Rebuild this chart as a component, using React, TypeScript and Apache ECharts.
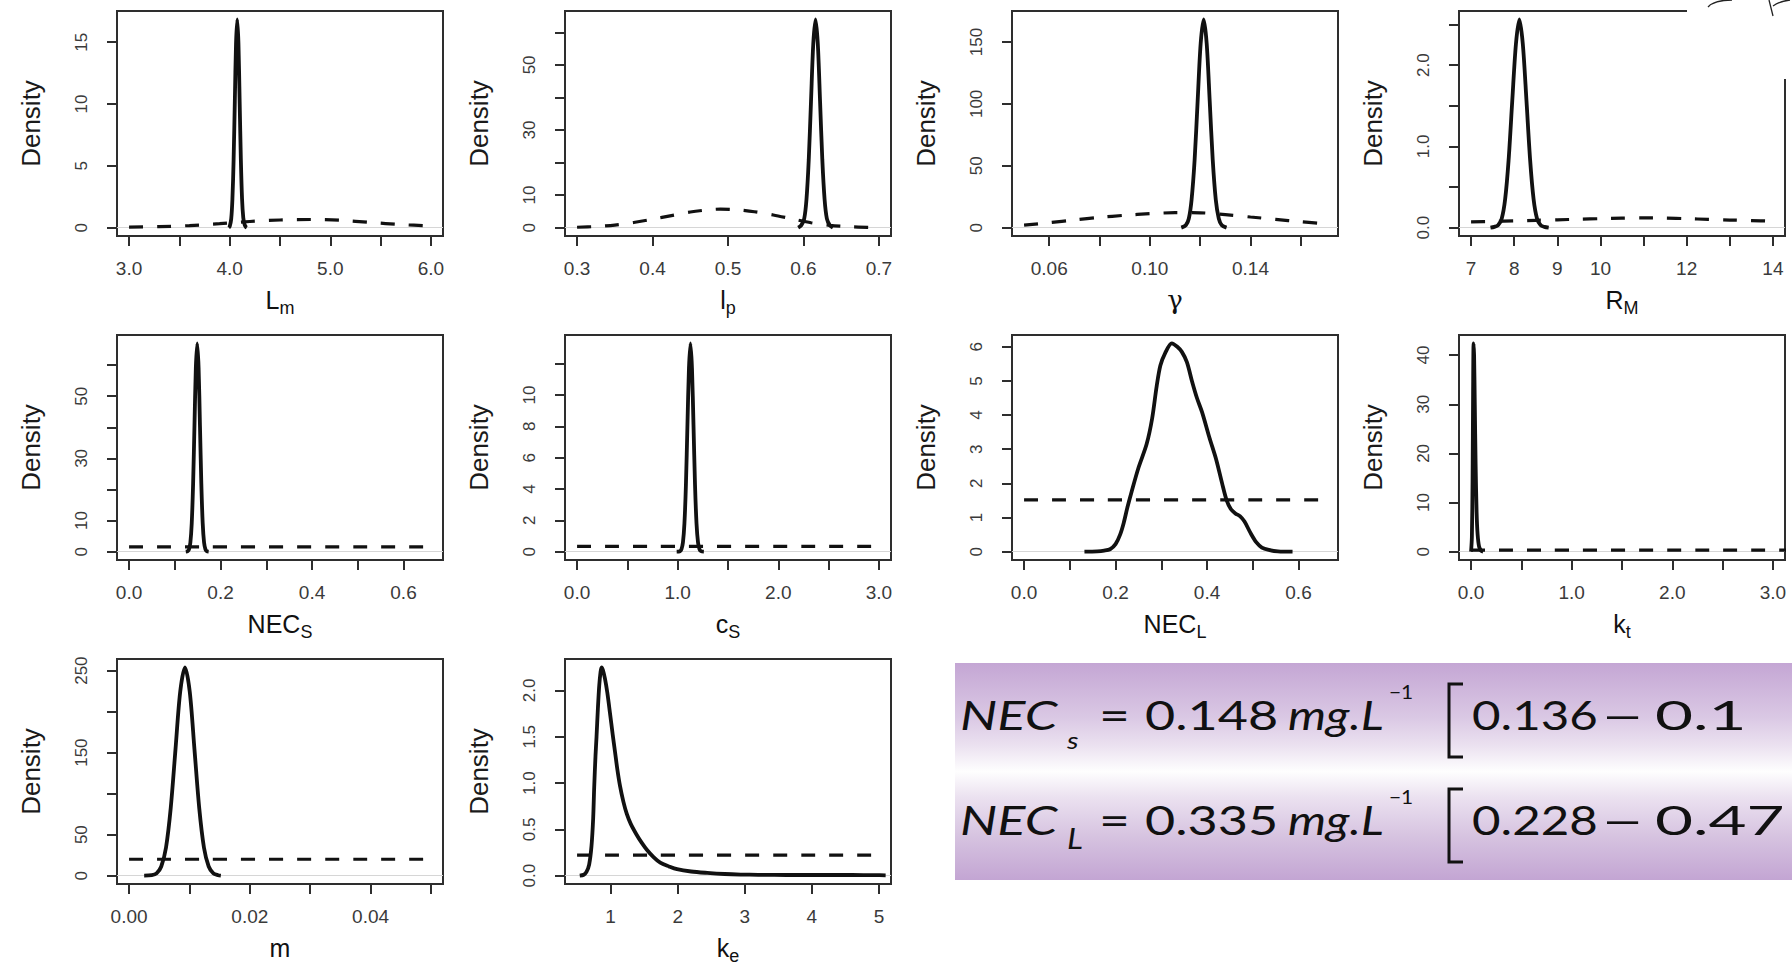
import React, { useEffect, useRef } from "react";
import * as echarts from "echarts";

// ---------------- posterior (solid) and prior (dashed) densities ----------------
const lmPosterior = [[3.99,0],[4.0,0.1],[4.015,0.7],[4.027,2.3],[4.039,5.5],[4.051,10.2],[4.063,14.9],[4.075,16.85],[4.087,14.9],[4.099,10.2],[4.111,5.5],[4.123,2.3],[4.135,0.8],[4.148,0.25],[4.16,0.06],[4.17,0]];
const lmPrior = [[3.0,0.05],[3.3,0.08],[3.6,0.17],[3.9,0.32],[4.2,0.5],[4.5,0.62],[4.8,0.66],[5.1,0.6],[5.4,0.42],[5.7,0.25],[6.0,0.14]];

const lpPosterior = [[0.593,0],[0.597,0.7],[0.601,2.8],[0.604,8.7],[0.607,20.8],[0.610,38.8],[0.613,56.5],[0.616,64.0],[0.619,56.5],[0.622,38.8],[0.625,20.8],[0.628,8.7],[0.631,2.8],[0.635,0.7],[0.639,0]];
const lpPrior = [[0.30,0.13],[0.325,0.35],[0.35,0.8],[0.375,1.6],[0.40,2.6],[0.425,3.7],[0.45,4.8],[0.475,5.5],[0.49,5.7],[0.51,5.55],[0.535,4.9],[0.56,3.9],[0.585,2.7],[0.61,1.5],[0.635,0.7],[0.66,0.3],[0.685,0.1],[0.70,0.06]];

const gammaPosterior = [[0.1125,0],[0.1143,1.9],[0.1155,7.4],[0.1166,22.8],[0.1178,54.7],[0.1190,102.2],[0.1202,148.7],[0.1214,168.3],[0.1226,148.7],[0.1238,102.2],[0.1250,54.7],[0.1262,22.8],[0.1274,7.4],[0.1286,1.9],[0.1305,0]];
const gammaPrior = [[0.05,2.0],[0.06,4.0],[0.07,6.2],[0.08,8.3],[0.09,10.0],[0.10,11.3],[0.11,12.1],[0.12,12.0],[0.13,10.5],[0.14,8.6],[0.15,6.7],[0.16,4.8],[0.17,3.0]];

const rmPosterior = [[7.45,0],[7.54,0.01],[7.625,0.03],[7.71,0.11],[7.79,0.35],[7.87,0.83],[7.955,1.56],[8.04,2.26],[8.12,2.565],[8.2,2.26],[8.285,1.56],[8.37,0.83],[8.45,0.35],[8.53,0.11],[8.615,0.03],[8.7,0.01],[8.8,0]];
const rmPrior = [[7.0,0.072],[7.5,0.077],[8.0,0.083],[8.5,0.09],[9.0,0.097],[9.5,0.104],[10.0,0.111],[10.5,0.117],[11.0,0.12],[11.5,0.118],[12.0,0.111],[12.5,0.102],[13.0,0.094],[13.5,0.087],[14.0,0.08]];

const necsPosterior = [[0.124,0],[0.128,0.15],[0.131,0.74],[0.134,2.9],[0.137,9.1],[0.140,21.8],[0.143,40.6],[0.146,59.1],[0.149,67.0],[0.152,59.1],[0.155,40.6],[0.158,21.8],[0.161,9.1],[0.164,2.9],[0.167,0.74],[0.170,0.15],[0.174,0]];
const necsPrior = [[0,1.515],[0.66,1.515]];

const csPosterior = [[0.99,0],[1.022,0.03],[1.037,0.15],[1.052,0.58],[1.067,1.8],[1.082,4.3],[1.097,8.1],[1.112,11.7],[1.127,13.3],[1.142,11.7],[1.157,8.1],[1.172,4.3],[1.187,1.8],[1.202,0.58],[1.217,0.15],[1.232,0.03],[1.26,0]];
const csPrior = [[0,0.333],[3,0.333]];

const neclPosterior = [[0.132,0],[0.16,0.01],[0.175,0.03],[0.188,0.07],[0.200,0.22],[0.210,0.5],[0.218,0.85],[0.226,1.3],[0.235,1.75],[0.250,2.45],[0.268,3.15],[0.280,3.9],[0.290,4.85],[0.298,5.45],[0.308,5.8],[0.323,6.1],[0.335,6.0],[0.345,5.85],[0.356,5.55],[0.367,5.0],[0.378,4.5],[0.390,4.05],[0.405,3.35],[0.420,2.7],[0.433,2.0],[0.443,1.5],[0.452,1.25],[0.462,1.12],[0.472,1.04],[0.482,0.88],[0.495,0.55],[0.508,0.27],[0.520,0.12],[0.535,0.05],[0.555,0.01],[0.587,0]];
const neclPrior = [[0,1.515],[0.66,1.515]];

const ktPosterior = [[0.0,0],[0.008,3],[0.015,15],[0.02,32],[0.025,42.4],[0.03,40],[0.037,30],[0.045,18],[0.055,8],[0.065,3.5],[0.08,1.0],[0.1,0.2],[0.12,0]];
const ktPrior = [[0,0.333],[3.13,0.333]];

const mPosterior = [[0.0025,0],[0.00376,0.56],[0.00455,2.8],[0.00533,11.2],[0.00612,34.4],[0.0069,82.5],[0.00769,154.1],[0.00847,224.2],[0.00926,254],[0.01005,224.2],[0.01083,154.1],[0.01162,82.5],[0.0124,34.4],[0.01319,11.2],[0.01397,2.8],[0.01476,0.56],[0.0152,0]];
const mPrior = [[0,20],[0.05,20]];

const kePosterior = [[0.54,0],[0.60,0.01],[0.64,0.04],[0.68,0.12],[0.715,0.32],[0.74,0.62],[0.755,0.95],[0.775,1.3],[0.79,1.5],[0.81,1.8],[0.83,2.05],[0.85,2.2],[0.865,2.25],[0.885,2.22],[0.915,2.13],[0.95,1.98],[0.99,1.76],[1.03,1.53],[1.065,1.34],[1.10,1.15],[1.14,0.97],[1.19,0.8],[1.24,0.67],[1.30,0.56],[1.39,0.44],[1.46,0.36],[1.54,0.28],[1.64,0.2],[1.74,0.14],[1.87,0.1],[1.99,0.07],[2.2,0.045],[2.44,0.03],[2.7,0.018],[2.94,0.012],[3.2,0.009],[3.44,0.008],[3.8,0.007],[4.2,0.007],[4.6,0.007],[4.94,0.006],[5.1,0.004]];
const kePrior = [[0.5,0.222],[5.0,0.222]];

// ---------------- ticks and tick labels ----------------
const lmXTicks = [3, 3.5, 4, 4.5, 5, 5.5, 6];
const lmXLabels = [3, 4, 5, 6];
const lmYTicks = [0, 5, 10, 15];
const lmYLabels = [0, 5, 10, 15];

const lpXTicks = [0.3, 0.4, 0.5, 0.6, 0.7];
const lpXLabels = [0.3, 0.4, 0.5, 0.6, 0.7];
const lpYTicks = [0, 10, 20, 30, 40, 50, 60];
const lpYLabels = [0, 10, 30, 50];

const gammaXTicks = [0.06, 0.08, 0.1, 0.12, 0.14, 0.16];
const gammaXLabels = [0.06, 0.1, 0.14];
const gammaYTicks = [0, 50, 100, 150];
const gammaYLabels = [0, 50, 100, 150];

const rmXTicks = [7, 8, 9, 10, 11, 12, 13, 14];
const rmXLabels = [7, 8, 9, 10, 12, 14];
const rmYTicks = [0, 0.5, 1, 1.5, 2, 2.5];
const rmYLabels = [0, 1, 2];

const necXTicks = [0, 0.1, 0.2, 0.3, 0.4, 0.5, 0.6];
const necXLabels = [0, 0.2, 0.4, 0.6];
const necsYTicks = [0, 10, 20, 30, 40, 50, 60];
const necsYLabels = [0, 10, 30, 50];

const csXTicks = [0, 0.5, 1, 1.5, 2, 2.5, 3];
const csXLabels = [0, 1, 2, 3];
const csYTicks = [0, 2, 4, 6, 8, 10, 12];
const csYLabels = [0, 2, 4, 6, 8, 10];

const neclYTicks = [0, 1, 2, 3, 4, 5, 6];
const neclYLabels = [0, 1, 2, 3, 4, 5, 6];

const ktXTicks = [0, 0.5, 1, 1.5, 2, 2.5, 3];
const ktXLabels = [0, 1, 2, 3];
const ktYTicks = [0, 10, 20, 30, 40];
const ktYLabels = [0, 10, 20, 30, 40];

const mXTicks = [0, 0.01, 0.02, 0.03, 0.04, 0.05];
const mXLabels = [0, 0.02, 0.04];
const mYTicks = [0, 50, 100, 150, 200, 250];
const mYLabels = [0, 50, 150, 250];

const keXTicks = [1, 2, 3, 4, 5];
const keXLabels = [1, 2, 3, 4, 5];
const keYTicks = [0, 0.5, 1, 1.5, 2];
const keYLabels = [0, 0.5, 1, 1.5, 2];

// ---------------- annotation box text ----------------
const necsValue = "0.148";
const necsInterval = "0.136";
const necsIntervalEnd = "0.1";
const neclValue = "0.335";
const neclInterval = "0.228";
const neclIntervalEnd = "0.47";

// ---------------- layout ----------------
const COL_LEFT = [117, 565, 1012, 1459];
const ROW_TOP = [11, 335, 659];
const PW = 326;
const PH = 225;

const panels = [
  { name: "{m|L}{s|m}", post: lmPosterior, prior: lmPrior, xLim: [3, 6], xT: lmXTicks, xL: lmXLabels, xD: 1, yT: lmYTicks, yL: lmYLabels, yD: 0, col: 0, row: 0 },
  { name: "{m|l}{s|p}", post: lpPosterior, prior: lpPrior, xLim: [0.3, 0.7], xT: lpXTicks, xL: lpXLabels, xD: 1, yT: lpYTicks, yL: lpYLabels, yD: 0, col: 1, row: 0 },
  { name: "{g|γ}", post: gammaPosterior, prior: gammaPrior, xLim: [0.05, 0.17], xT: gammaXTicks, xL: gammaXLabels, xD: 2, yT: gammaYTicks, yL: gammaYLabels, yD: 0, col: 2, row: 0 },
  { name: "{m|R}{s|M}", post: rmPosterior, prior: rmPrior, xLim: [7, 14], xT: rmXTicks, xL: rmXLabels, xD: 0, yT: rmYTicks, yL: rmYLabels, yD: 1, col: 3, row: 0 },
  { name: "{m|NEC}{s|S}", post: necsPosterior, prior: necsPrior, xLim: [0, 0.66], xT: necXTicks, xL: necXLabels, xD: 1, yT: necsYTicks, yL: necsYLabels, yD: 0, col: 0, row: 1 },
  { name: "{m|c}{s|S}", post: csPosterior, prior: csPrior, xLim: [0, 3], xT: csXTicks, xL: csXLabels, xD: 1, yT: csYTicks, yL: csYLabels, yD: 0, col: 1, row: 1 },
  { name: "{m|NEC}{s|L}", post: neclPosterior, prior: neclPrior, xLim: [0, 0.66], xT: necXTicks, xL: necXLabels, xD: 1, yT: neclYTicks, yL: neclYLabels, yD: 0, col: 2, row: 1 },
  { name: "{m|k}{s|t}", post: ktPosterior, prior: ktPrior, xLim: [0, 3], xT: ktXTicks, xL: ktXLabels, xD: 1, yT: ktYTicks, yL: ktYLabels, yD: 0, col: 3, row: 1 },
  { name: "{m|m}", post: mPosterior, prior: mPrior, xLim: [0, 0.05], xT: mXTicks, xL: mXLabels, xD: 2, yT: mYTicks, yL: mYLabels, yD: 0, col: 0, row: 2 },
  { name: "{m|k}{s|e}", post: kePosterior, prior: kePrior, xLim: [0.5, 5.0], xT: keXTicks, xL: keXLabels, xD: 0, yT: keYTicks, yL: keYLabels, yD: 1, col: 1, row: 2 },
];

const INK = "#111";
const AXIS = "#2e2e2e";
const LABEL = "#3a3a3a";
const FONT = "Liberation Sans";

function buildGraphic() {
  const txt = (text: string, x: number, y: number, size: number, italic: boolean, sx: number) => ({
    type: "text",
    x,
    y,
    scaleX: sx,
    z: 12,
    style: {
      text,
      fontSize: size,
      fontFamily: "Lato",
      fontStyle: italic ? "italic" : "normal",
      fill: "#111",
      align: "left",
      verticalAlign: "middle",
    },
  });
  const bracket = (top: number, bottom: number) => ({
    type: "polyline",
    z: 12,
    shape: { points: [[1463, top], [1449, top], [1449, bottom], [1463, bottom]] },
    style: { stroke: "#111", lineWidth: 3, fill: "none" },
  });
  const line1 = 714;
  const line2 = 819;
  return [
    {
      type: "rect",
      z: 10,
      shape: { x: 955, y: 663, width: 837, height: 217 },
      style: {
        fill: {
          type: "linear", x: 0, y: 0, x2: 0, y2: 1,
          colorStops: [
            { offset: 0, color: "#c4a6d4" },
            { offset: 0.25, color: "#dac8e4" },
            { offset: 0.38, color: "#ebe1f0" },
            { offset: 0.5, color: "#fefefe" },
            { offset: 0.62, color: "#ebe1f0" },
            { offset: 0.8, color: "#d6c3e0" },
            { offset: 1, color: "#c3a5d3" },
          ],
        },
      },
    },
    txt("NEC", 960, line1, 41, true, 1.28),
    txt("s", 1067, line1 + 26, 24, true, 1.2),
    txt("=", 1099, line1, 41, false, 1.3),
    txt(necsValue, 1145, line1, 41, false, 1.27),
    txt("mg.L", 1288, line1, 41, true, 1.18),
    txt("−1", 1389, line1 - 23, 19, false, 1.1),
    bracket(684, 757),
    txt(necsInterval, 1472, line1, 41, false, 1.2),
    txt("–", 1600, line1, 41, false, 1.9),
    txt(necsIntervalEnd, 1655, line1, 41, false, 1.6),

    txt("NEC", 960, line2, 41, true, 1.28),
    txt("L", 1067, line2 + 19, 28, true, 1.2),
    txt("=", 1099, line2, 41, false, 1.3),
    txt(neclValue, 1145, line2, 41, false, 1.27),
    txt("mg.L", 1288, line2, 41, true, 1.18),
    txt("−1", 1389, line2 - 23, 19, false, 1.1),
    bracket(789, 862),
    txt(neclInterval, 1472, line2, 41, false, 1.2),
    txt("–", 1600, line2, 41, false, 1.9),
    txt(neclIntervalEnd, 1655, line2, 41, false, 1.6),

    // white patch over the top-right corner with a pen sketch
    { type: "rect", z: 20, shape: { x: 1687, y: 0, width: 105, height: 79 }, style: { fill: "#ffffff" } },
    { type: "bezierCurve", z: 21, shape: { x1: 1708, y1: 7, x2: 1732, y2: 0, cpx1: 1714, cpy1: 0 }, style: { stroke: "#222", lineWidth: 1.3, fill: "none" } },
    { type: "line", z: 21, shape: { x1: 1769, y1: 0, x2: 1773, y2: 16 }, style: { stroke: "#222", lineWidth: 1.3 } },
    { type: "bezierCurve", z: 21, shape: { x1: 1773, y1: 6, x2: 1790, y2: 0, cpx1: 1780, cpy1: 1 }, style: { stroke: "#222", lineWidth: 1.3, fill: "none" } },
  ];
}

function buildOption() {
  const grid: any[] = [];
  const xAxis: any[] = [];
  const yAxis: any[] = [];
  const series: any[] = [];

  panels.forEach((p, i) => {
    const ys = p.post.map((d) => d[1]).concat(p.prior.map((d) => d[1]));
    const yMax = Math.max(...ys);
    const xr = p.xLim[1] - p.xLim[0];

    grid.push({
      left: COL_LEFT[p.col],
      top: ROW_TOP[p.row],
      width: PW,
      height: PH,
      show: true,
      borderColor: AXIS,
      borderWidth: 2,
      backgroundColor: "rgba(0,0,0,0)",
      containLabel: false,
      outerBoundsMode: "none",
    });

    xAxis.push({
      type: "value",
      gridIndex: i,
      min: p.xLim[0] - 0.04 * xr,
      max: p.xLim[1] + 0.04 * xr,
      axisLine: { show: false, onZero: false },
      splitLine: { show: false },
      axisTick: { show: true, length: 10, lineStyle: { color: AXIS, width: 2 }, customValues: p.xT },
      axisLabel: {
        customValues: p.xL,
        formatter: (v: number) => Number(v).toFixed(p.xD),
        margin: 23,
        fontSize: 19,
        color: LABEL,
        fontFamily: FONT,
      },
      name: p.name,
      nameLocation: "middle",
      nameGap: 51,
      nameMoveOverlap: false,
      nameTextStyle: {
        fontFamily: FONT,
        color: INK,
        fontSize: 25,
        rich: {
          m: { fontFamily: FONT, fontSize: 25, lineHeight: 30, color: INK, verticalAlign: "top" },
          g: { fontFamily: "DejaVu Serif", fontSize: 26, lineHeight: 30, color: INK, verticalAlign: "top" },
          s: { fontFamily: FONT, fontSize: 18, lineHeight: 18, color: INK, verticalAlign: "top", padding: [12, 0, 0, 0] },
        },
      },
    });

    yAxis.push({
      type: "value",
      gridIndex: i,
      min: -0.04 * yMax,
      max: 1.04 * yMax,
      axisLine: { show: false, onZero: false },
      splitLine: { show: false },
      axisTick: { show: true, length: 10, lineStyle: { color: AXIS, width: 2 }, customValues: p.yT },
      axisLabel: {
        customValues: p.yL,
        formatter: (v: number) => Number(v).toFixed(p.yD),
        rotate: 90,
        margin: 27,
        fontSize: 17,
        color: LABEL,
        fontFamily: FONT,
      },
      name: "Density",
      nameLocation: "middle",
      nameRotate: 90,
      nameGap: 73,
      nameMoveOverlap: false,
      nameTextStyle: { fontFamily: FONT, fontSize: 26, color: "#1a1a1a" },
    });

    series.push({
      type: "line",
      xAxisIndex: i,
      yAxisIndex: i,
      data: p.post,
      symbol: "none",
      showSymbol: false,
      smooth: 0.3,
      lineStyle: { color: INK, width: 3.8 },
      z: 3,
      silent: true,
    });
    series.push({
      type: "line",
      xAxisIndex: i,
      yAxisIndex: i,
      data: p.prior,
      symbol: "none",
      showSymbol: false,
      smooth: 0.3,
      lineStyle: { color: INK, width: 3.2, type: [14, 14] },
      z: 4,
      silent: true,
      markLine: {
        silent: true,
        symbol: ["none", "none"],
        label: { show: false },
        lineStyle: { color: "#d6d6d6", width: 1, type: "solid" },
        data: [{ yAxis: 0 }],
        z: 1,
      },
    });
  });

  return {
    animation: false,
    backgroundColor: "#ffffff",
    textStyle: { fontFamily: FONT },
    grid,
    xAxis,
    yAxis,
    series,
    graphic: buildGraphic(),
  };
}

export default function App() {
  const ref = useRef<HTMLDivElement>(null);
  useEffect(() => {
    if (!ref.current) return;
    const chart = echarts.init(ref.current, null, { renderer: "svg" });
    chart.setOption(buildOption() as any);
    return () => chart.dispose();
  }, []);
  return (
    <div
      ref={ref}
      style={{ position: "fixed", left: 0, top: 0, width: 1792, height: 968, background: "#fff" }}
    />
  );
}
